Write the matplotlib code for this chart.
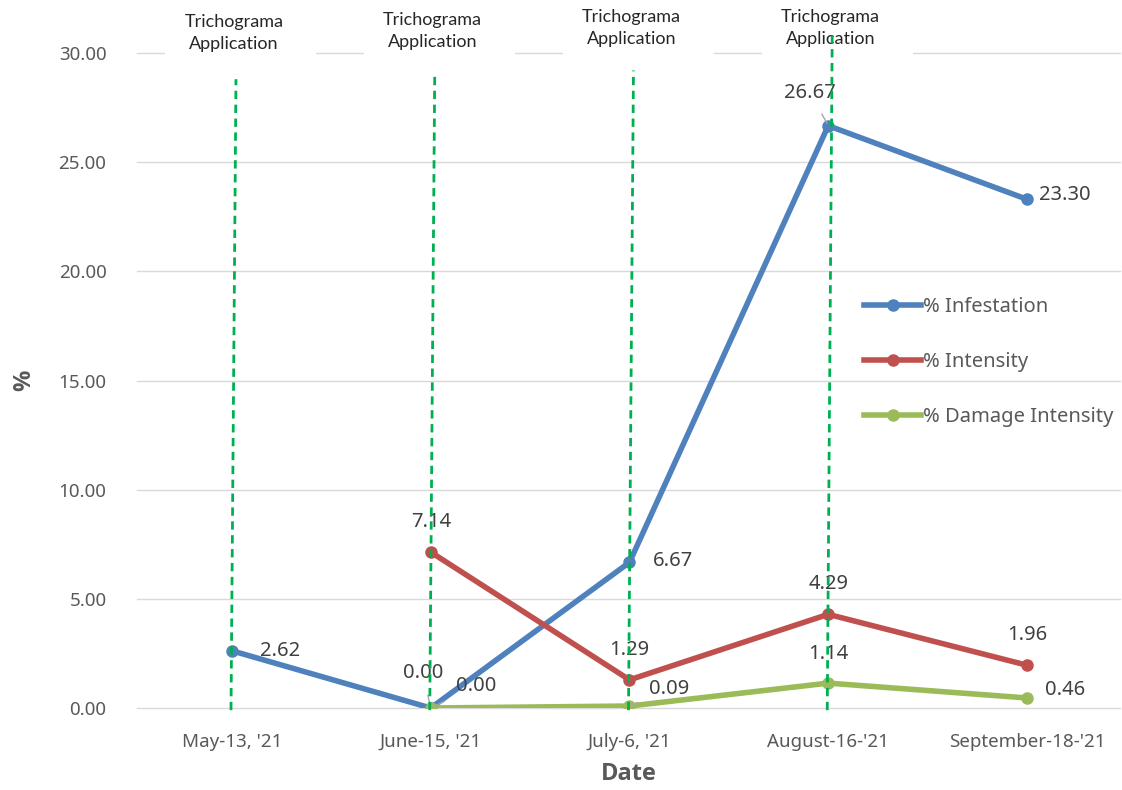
import matplotlib.pyplot as plt
import matplotlib.patches as patches
import numpy as np

dates = ["May-13, '21", "June-15, '21", "July-6, '21", "August-16-'21", "September-18-'21"]
infestation = [2.62, 0.00, 6.67, 26.67, 23.30]
intensity = [np.nan, 7.14, 1.29, 4.29, 1.96]
damage = [np.nan, 0.00, 0.09, 1.14, 0.46]

# application markers (first four dates)
app_idx = [0, 1, 2, 3]
app_top = [28.8, 29.0, 29.2, 30.8]
app_text_y = [30.92, 31.01, 31.15, 31.15]

blue = '#4F81BD'
red = '#C0504D'
green = '#9BBB59'
grey = '#595959'

plt.rcParams['font.family'] = ['Noto Sans', 'DejaVu Sans']

fig = plt.figure(figsize=(11.22, 7.9), dpi=100)
ax = fig.add_axes([137/1122, 82/790, 983/1122, 655/790])

x = np.arange(len(dates))
ax.plot(x, infestation, color=blue, lw=4, marker='o', ms=8, label='% Infestation', zorder=4)
ax.plot(x, intensity, color=red, lw=4, marker='o', ms=8, label='% Intensity', zorder=4)
ax.plot(x, damage, color=green, lw=4, marker='o', ms=8, label='% Damage Intensity', zorder=5)

ax.set_xlim(-0.478, 4.468)
ax.set_ylim(0, 30)
ax.set_yticks(np.arange(0, 31, 5))
ax.set_yticklabels(['%.2f' % v for v in np.arange(0, 31, 5)])
ax.set_xticks(x)
ax.set_xticklabels(dates)
ax.tick_params(length=0, labelsize=13.5, colors=grey)
ax.tick_params(axis='x', pad=18)
ax.tick_params(axis='y', pad=22)
for s in ax.spines.values():
    s.set_visible(False)
ax.yaxis.grid(True, color='#D9D9D9', lw=1, clip_on=False)
ax.set_axisbelow(True)

ax.set_xlabel('Date', fontsize=17, fontweight='bold', color=grey, labelpad=8,
              family=['Open Sans', 'DejaVu Sans'])
ax.set_ylabel('%', fontsize=17, fontweight='bold', color=grey, labelpad=16,
              family=['Open Sans', 'DejaVu Sans'])

lab = dict(fontsize=14.5, color='#404040', ha='center', va='center', zorder=6)

def label(i, v, dx, dy, leader=False):
    kw = {}
    if leader:
        kw['arrowprops'] = dict(arrowstyle='-', color='#A6A6A6', lw=1, shrinkA=7, shrinkB=2)
    ax.annotate('%.2f' % v, (i, v), xytext=(dx * 0.72, dy * 0.72),
                textcoords='offset points', **lab, **kw)

label(0, infestation[0], 48, 0)
label(1, infestation[1], -8, 35, True)
label(2, infestation[2], 44, 1)
label(3, infestation[3], -18, 33, True)
label(4, infestation[4], 38, 4)
for i in range(1, 5):
    label(i, intensity[i], 0, 30)
label(1, damage[1], 45, 22, True)
label(2, damage[2], 40, 17, True)
label(3, damage[3], 0, 29)
label(4, damage[4], 38, 8)

# Trichograma application markers
for i, top, ty in zip(app_idx, app_top, app_text_y):
    ax.plot([i - 0.005, i + 0.02], [-0.1, top], color='#00B050', lw=2,
            ls=(0, (3, 2)), zorder=7, clip_on=False)
    ax.add_patch(patches.Rectangle((i + 0.045 - 0.38, 29.6), 0.76, 2.6,
                                   facecolor='white', edgecolor='none', zorder=3, clip_on=False))
    ax.text(i + 0.01, ty, 'Trichograma\nApplication', ha='center', va='center',
            fontsize=13, family=['Lato', 'DejaVu Sans'], color='#262626',
            linespacing=1.45, zorder=6, clip_on=False)

leg = ax.legend(loc='upper left', bbox_to_anchor=(0.74, 0.628), frameon=False,
                fontsize=14.5, handlelength=2.8, handletextpad=0.1,
                labelspacing=1.75, borderpad=0, borderaxespad=0)
for t in leg.get_texts():
    t.set_color(grey)

fig.savefig('out.png', dpi=100)
